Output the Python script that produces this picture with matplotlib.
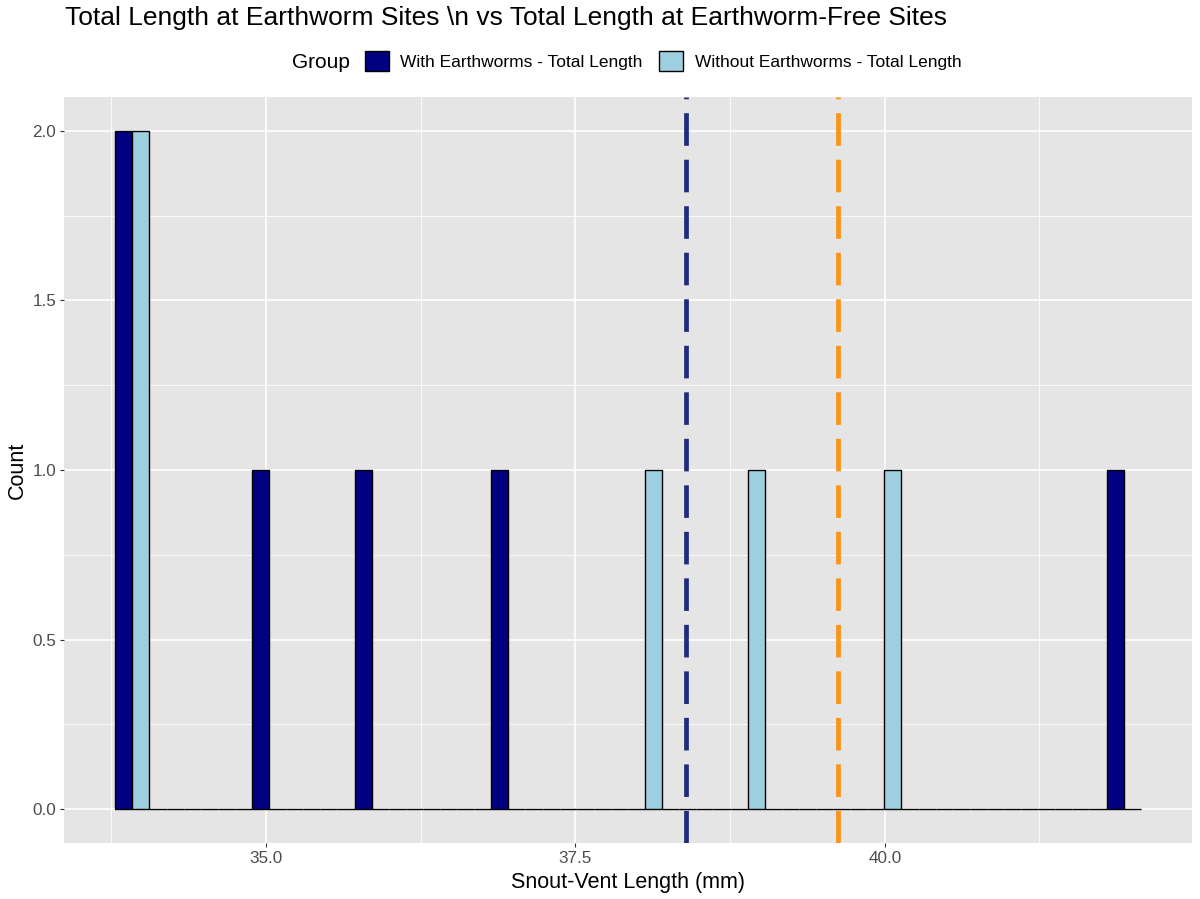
import numpy as np
import matplotlib
matplotlib.use("Agg")
import matplotlib.pyplot as plt
from matplotlib.patches import Patch

plt.rcParams["font.family"] = ["Liberation Sans", "DejaVu Sans"]

# ---- data ----
with_vals = [33.92, 33.95, 35.03, 35.86, 36.96, 41.93]
without_vals = [33.92, 33.98, 38.07, 38.89, 40.00]
mean_with = 38.39
mean_without = 39.62
group_labels = ["With Earthworms - Total Length", "Without Earthworms - Total Length"]
n_bins = 30
x_ticks = [35.0, 37.5, 40.0]
x_minor = [33.75, 36.25, 38.75, 41.25]
y_ticks = [0.0, 0.5, 1.0, 1.5, 2.0]
y_minor = [0.25, 0.75, 1.25, 1.75]

# ---- ggplot-like binning (bins=30, centred on min/max) ----
all_vals = np.array(with_vals + without_vals)
lo, hi = all_vals.min(), all_vals.max()
bw = (hi - lo) / (n_bins - 1)
edges = lo - bw / 2 + bw * np.arange(n_bins + 1)
centers = (edges[:-1] + edges[1:]) / 2
c_with, _ = np.histogram(with_vals, bins=edges)
c_without, _ = np.histogram(without_vals, bins=edges)

W, H = 1200, 899
fig = plt.figure(figsize=(W / 100, H / 100), dpi=100)
px = lambda x: x / W
py = lambda y: 1 - y / H
ax = fig.add_axes([px(64), py(843), px(1192 - 64), (843 - 97) / H])
ax.set_facecolor("#E5E5E5")
for s in ax.spines.values():
    s.set_visible(False)

# grid
for v in x_minor:
    ax.axvline(v, color="white", lw=0.6, zorder=0)
for v in y_minor:
    ax.axhline(v, color="white", lw=0.6, zorder=0)
for v in x_ticks:
    ax.axvline(v, color="white", lw=1.2, zorder=0)
for v in y_ticks:
    ax.axhline(v, color="white", lw=1.2, zorder=0)

fill_with = "#000080"
fill_without = "#9ECFE0"
ax.bar(centers - bw / 4, c_with, width=bw / 2, color=fill_with, edgecolor="black",
       linewidth=1.0, zorder=2)
ax.bar(centers + bw / 4, c_without, width=bw / 2, color=fill_without, edgecolor="black",
       linewidth=1.0, zorder=2)

ax.axvline(mean_with, color="#202C7A", lw=3.4, dashes=(6.9, 2.95),
           dash_capstyle="butt", zorder=3)
ax.axvline(mean_without, color="#FB9316", lw=3.4, dashes=(6.9, 2.95),
           dash_capstyle="butt", zorder=3)

span = edges[-1] - edges[0]
ax.set_xlim(edges[0] - 0.05 * span, edges[-1] + 0.05 * span)
ax.set_ylim(-0.1, 2.1)
ax.set_xticks(x_ticks)
ax.set_xticklabels([f"{v:.1f}" for v in x_ticks])
ax.set_yticks(y_ticks)
ax.set_yticklabels([f"{v:.1f}" for v in y_ticks])
ax.tick_params(axis="both", length=3.2, width=0.8, color="#333333", labelcolor="#4D4D4D",
               labelsize=12.3, pad=2.5)

ax.set_xlabel("Snout-Vent Length (mm)", fontsize=15.5, color="black", labelpad=4.5)
ax.set_ylabel("Count", fontsize=15.5, color="black", labelpad=3)

fig.text(px(65), py(18), "Total Length at Earthworm Sites \\n vs Total Length at Earthworm-Free Sites",
         fontsize=19, ha="left", va="center", color="black")

fig.text(px(292), py(62), "Group", fontsize=15, ha="left", va="center")
handles = [Patch(facecolor=fill_with, edgecolor="black", lw=1.0),
           Patch(facecolor=fill_without, edgecolor="black", lw=1.0)]
fig.legend(handles, group_labels, ncol=2, loc="center left",
           bbox_to_anchor=(px(365), py(61)), frameon=False, fontsize=12.5,
           handlelength=1.38, handleheight=1.38, handletextpad=0.65, columnspacing=0.96,
           borderaxespad=0, borderpad=0)

fig.savefig("out.png", dpi=100)
